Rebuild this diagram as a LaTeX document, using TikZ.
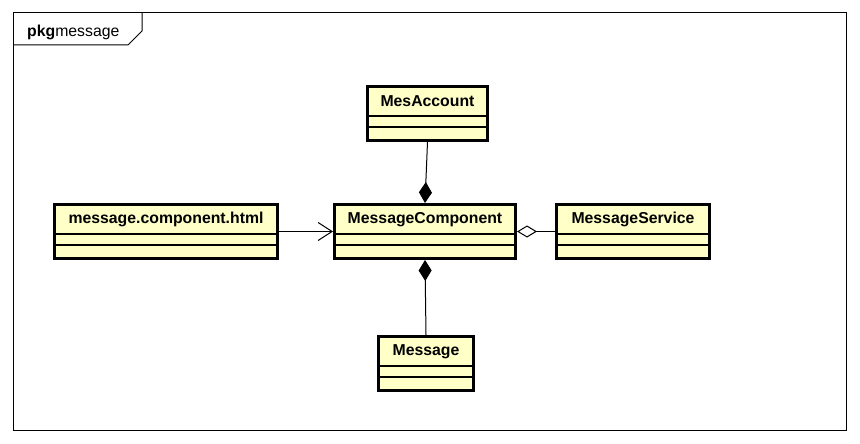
\documentclass[tikz,border=0pt]{standalone}
\usepackage{fontspec}
\setmainfont{Liberation Sans}
\usetikzlibrary{arrows.meta,calc}
\definecolor{classfill}{HTML}{FFFFC8}
\tikzset{
  classbox/.style={fill=classfill, minimum height=54pt, inner sep=0pt, outer sep=1.5pt},
  classborder/.style={draw=black, line width=3pt},
  classname/.style={font=\fontsize{15.8}{18}\selectfont\bfseries, inner sep=0pt},
  sepline/.style={line width=1.2pt},
  conn/.style={line width=1pt},
  composite/.style={conn, -{Diamond[length=21pt,width=13pt,fill=black]}},
  shared/.style={conn, -{Diamond[open,length=20pt,width=12pt,fill=white]}},
  depend/.style={conn, -{Straight Barb[length=14pt,width=18pt]}},
}
% one UML class: name compartment plus two empty compartments
% (cx, top and width give the outer edge of the border)
\newcommand{\umlclass}[5]{% name, cx, top, width, text
  \node[classbox, minimum width=#4pt-3pt, anchor=north] (#1) at (#2,#3) {};
  \node[classname] (#1-name) at (#2,#3+16.5) {#5};
  \draw[sepline] ($(#1.north west)+(1.5,31)$) -- ($(#1.north east)+(-1.5,31)$);
  \draw[sepline] ($(#1.north west)+(1.5,42)$) -- ($(#1.north east)+(-1.5,42)$);
  \draw[classborder] ($(#1.north west)+(1.5,1.5)$) rectangle ($(#1.south east)+(-1.5,-1.5)$);
}
\begin{document}
\begin{tikzpicture}[x=1pt,y=-1pt]
  \useasboundingbox (0,0) rectangle (860,444);
  \fill[white] (0,0) rectangle (860,444);
  % package frame with its tab
  \draw[line width=1pt] (13,13) rectangle (846,430);
  \draw[line width=1pt] (13,45) -- (128,45) -- (142,31) -- (142,13);
  \node[anchor=base west, inner sep=0pt, font=\fontsize{15.8}{18}\selectfont] (pkglabel) at (27,37) {\textbf{pkg}message};
  % classes
  \umlclass{mesaccount}{427.5}{85}{123}{MesAccount}
  \umlclass{component}{425}{203}{184}{MessageComponent}
  \umlclass{html}{166}{203}{226}{message.component.html}
  \umlclass{service}{633}{203}{156}{MessageService}
  \umlclass{message}{426}{335}{98}{Message}
  % relations
  \draw[composite] (mesaccount.south) -- (component.north);
  \draw[composite] (message.north) -- (component.south);
  \draw[depend] (html.east) -- (component.west);
  \draw[shared] (service.west) -- (component.east);
\end{tikzpicture}
\end{document}
